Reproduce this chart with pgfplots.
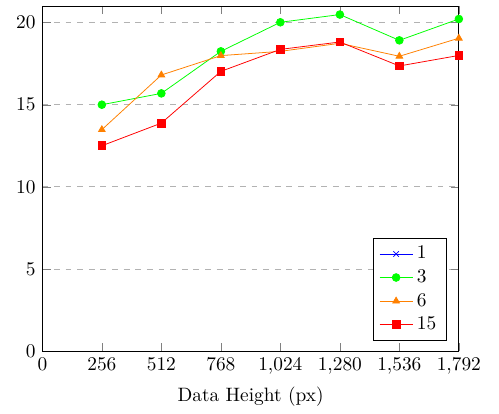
\documentclass[border=0pt]{standalone}
\usepackage{pgfplots}
\pgfplotsset{compat=1.18}
\begin{document}
\begin{tikzpicture}
\begin{axis}[
  scale only axis,
  width=215pt, height=178pt,
  xmin=0, xmax=1792, ymin=0, ymax=21,
  xtick={0,256,512,768,1024,1280,1536,1792},
  ytick={0,5,10,15,20},
  ymajorgrids, grid style={dashed, gray!60},
  xlabel={Data Height (px)},
  legend pos=south east,
  legend cell align=left,
]
\addlegendimage{blue, mark=x}
\addlegendentry{1}
\addplot[green, mark=*] coordinates {(256,15.0) (512,15.69) (768,18.25) (1024,20.02) (1280,20.49) (1536,18.92) (1792,20.22)};
\addlegendentry{3}
\addplot[orange, mark=triangle*] coordinates {(256,13.48) (512,16.81) (768,17.99) (1024,18.25) (1280,18.74) (1536,17.95) (1792,19.05)};
\addlegendentry{6}
\addplot[red, mark=square*] coordinates {(256,12.5) (512,13.88) (768,17.03) (1024,18.37) (1280,18.82) (1536,17.36) (1792,18.0)};
\addlegendentry{15}
\end{axis}
\path ([shift={(-5pt,0pt)}]current bounding box.south west) ([shift={(6pt,3pt)}]current bounding box.north east);
\end{tikzpicture}
\end{document}
